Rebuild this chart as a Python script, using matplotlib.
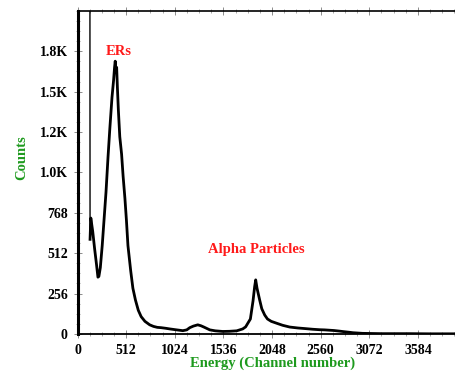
import matplotlib
matplotlib.use("Agg")
import matplotlib.pyplot as plt
from matplotlib.ticker import MultipleLocator

# ---------------- DATA ----------------
# spectrum (channel, counts); first point is off-scale
channels = [128, 132, 140, 160, 180, 200, 215, 225, 240, 260, 280, 300, 321,
            340, 363, 380, 390, 397, 405, 412, 420, 430, 445, 464, 480, 499,
            515, 531, 560, 583, 610, 640, 670, 710, 760, 800, 840, 880, 930,
            972, 1020, 1070, 1109, 1150, 1182, 1220, 1266, 1300, 1330, 1393,
            1450, 1529, 1600, 1676, 1739, 1770, 1795, 1820, 1848, 1865, 1876,
            1890, 1918, 1940, 1971, 2000, 2040, 2097, 2160, 2234, 2320, 2400,
            2475, 2550, 2600, 2650, 2700, 2760, 2800, 2860, 2900, 2950, 3000,
            3100, 3200, 3350, 3500, 3700, 3985]
counts = [5000, 600, 735, 650, 540, 440, 360, 365, 420, 560, 730, 900, 1120,
          1300, 1500, 1610, 1690, 1729, 1660, 1690, 1560, 1420, 1250, 1140, 1000, 860,
          720, 560, 400, 290, 215, 150, 110, 80, 58, 48, 42, 40, 36,
          32, 28, 24, 21, 26, 40, 50, 58, 52, 44, 26,
          20, 16, 17, 20, 32, 45, 70, 95, 210, 300, 343,
          290, 215, 160, 120, 95, 80, 68, 55, 44, 38, 34,
          30, 27, 26, 24, 22, 18, 15, 11, 8, 6, 4,
          3, 2, 2, 2, 1, 1]

x_ticks = [0, 512, 1024, 1536, 2048, 2560, 3072, 3584]
y_ticks = [0, 256, 512, 768, 1024, 1280, 1536, 1792]
y_tick_labels = ["0", "256", "512", "768", "1.0K", "1.2K", "1.5K", "1.8K"]

# ---------------- PLOT ----------------
plt.rcParams['font.family'] = ['Liberation Serif', 'DejaVu Serif']
plt.rcParams['font.weight'] = 'bold'

fig = plt.figure(figsize=(4.56, 3.74), dpi=100)
ax = fig.add_axes([0.17, 0.107, 0.83, 0.864])

# off-scale first channel drawn as a thin drop line, the rest thicker
ax.plot(channels[:2], counts[:2], color='black', linewidth=1.0)
ax.plot(channels[1:], counts[1:], color='black', linewidth=2.0, solid_joinstyle='round')

ax.set_xlim(0, 3985)
ax.set_ylim(0, 2048)

ax.set_xticks(x_ticks)
ax.set_xticklabels([str(t) for t in x_ticks], fontsize=10, fontweight='bold')
ax.xaxis.set_minor_locator(MultipleLocator(128))
ax.set_yticks(y_ticks)
ax.set_yticklabels(y_tick_labels, fontsize=10, fontweight='bold')
ax.yaxis.set_minor_locator(MultipleLocator(64))

ax.tick_params(which='major', direction='inout', length=6, width=0.7, color='0.55',
               top=True, pad=4)
ax.tick_params(which='minor', direction='inout', length=3.5, width=0.6, color='0.6',
               top=True)

ax.spines['right'].set_visible(False)
ax.spines['left'].set_linewidth(2.2)
ax.spines['bottom'].set_linewidth(1.3)
ax.spines['top'].set_linewidth(1.2)

ax.set_xlabel("Energy (Channel number)", color='#1e9a1e', fontsize=10.5, fontweight='bold')
ax.xaxis.set_label_coords(0.515, -0.07)
ax.set_ylabel("Counts", color='#1e9a1e', fontsize=10.5, fontweight='bold')
ax.yaxis.set_label_coords(-0.13, 0.545)

ax.text(436, 1791, "ERs", color='#ff1a1a', fontsize=10.5, fontweight='bold',
        ha='center', va='center')
ax.text(1881, 533, "Alpha Particles", color='#ff1a1a', fontsize=10.5, fontweight='bold',
        ha='center', va='center')

fig.savefig("out.png", dpi=100)
